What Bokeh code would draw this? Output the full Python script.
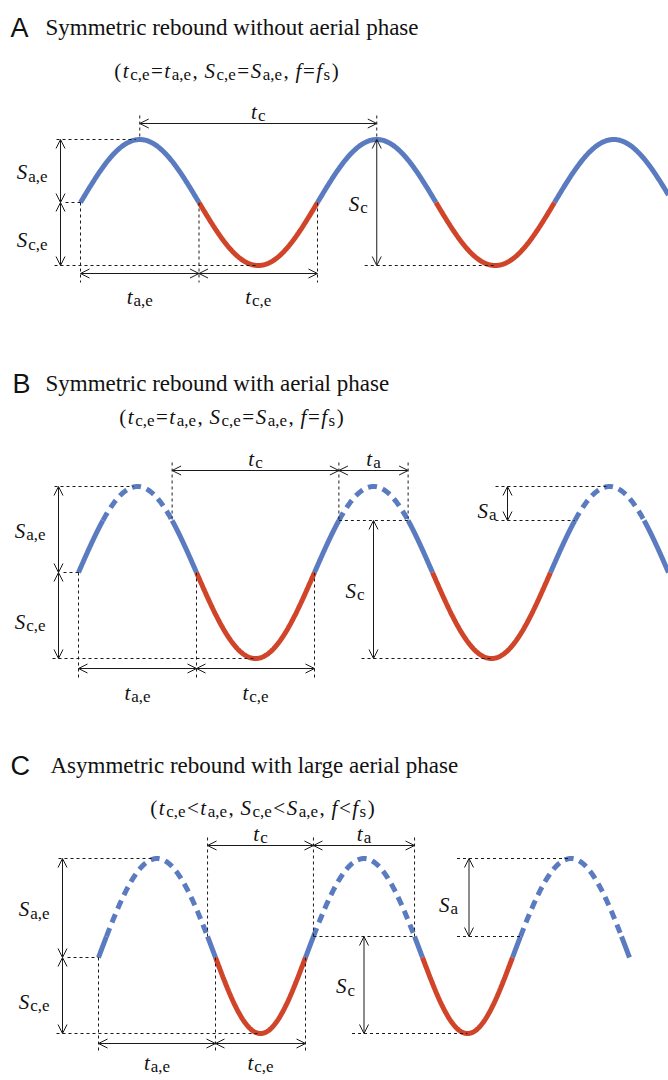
import numpy as np
from bokeh.plotting import figure
from bokeh.models import Range1d, Arrow, OpenHead, ColumnDataSource
from bokeh.core.properties import value, field
from bokeh.embed import file_html
from bokeh.resources import INLINE

# ---------------- data (schematic values, px units) ----------------
panel_letters = ["A", "B", "C"]
panel_titles = ["Symmetric rebound without aerial phase",
                "Symmetric rebound with aerial phase",
                "Asymmetric rebound with large aerial phase"]
panel_relations = ["=", "=", "<"]
start_x = [80, 78, 98]          # start of first extension half-cycle
mid_y = [202, 572, 957]         # equilibrium level
S_ae = [63, 86, 99]             # extension amplitude
S_ce = [63, 86, 76]             # contact amplitude
t_ae = [118.5, 118, 117]        # extension duration
t_ce = [118.5, 118, 90]         # contact duration
S_a = [0, 34, 78]               # aerial rise
end_x = [668, 668, 629]         # end of drawn curve

# ---------------- layout ----------------
W, H = 668, 1080
BLUE = "#5b7bc1"
RED = "#d0452a"
INK = "#1a1a1a"
SERIF = "Liberation Serif"
SANS = "Liberation Sans"
title_base = [27, 383, 765]
letter_x = [10, 12, 10]
title_x = [45, 45, 50]
sub_base = [70, 416, 807]
sub_cx = [226, 231, 262]
vx = [60, 58, 62]
tb_y = [273, 668, 1043]
tt_y = [123, 470, 845]
tb_lab = [23, 24, 19]

MAIN, SUBS = 21, 17
SUB_DROP = 4
WID = {
    "r": {"(": .333, ")": .333, ",": .25, " ": .25, "=": .564, "<": .564,
          "a": .444, "c": .444, "e": .444, "s": .389},
    "i": {"t": .278, "S": .5, "f": .278},
}

p = figure(width=W, height=H, x_range=Range1d(0, W), y_range=Range1d(H, 0),
           x_axis_type=None, y_axis_type=None, toolbar_location=None,
           output_backend="svg", min_border=0, outline_line_color=None,
           background_fill_color="white", border_fill_color="white")
p.grid.visible = False

texts = dict(x=[], y=[], text=[], size=[], style=[], font=[])


def add_text(x, y, txt, size, style="normal", font=SERIF):
    texts["x"].append(x)
    texts["y"].append(y)
    texts["text"].append(txt)
    texts["size"].append(f"{size}px")
    texts["style"].append(style)
    texts["font"].append(font)


def rich(pieces, x, y, align="left", gap=1.5):
    widths = []
    for txt, kind in pieces:
        size = SUBS if kind == "s" else MAIN
        tab = WID["i"] if kind == "i" else WID["r"]
        widths.append(sum(tab.get(ch, .5) for ch in txt) * size)
    total = sum(widths) + gap * (len(pieces) - 1)
    if align == "center":
        x -= total / 2
    elif align == "right":
        x -= total
    cx = x
    for (txt, kind), w in zip(pieces, widths):
        if kind == "s":
            add_text(cx, y + SUB_DROP, txt, SUBS, "normal")
        elif kind == "i":
            add_text(cx, y, txt, MAIN, "italic")
        else:
            add_text(cx, y, txt, MAIN, "normal")
        cx += w + gap


arrows = dict(xs=[], ys=[], xe=[], ye=[])
dashes = dict(x0=[], y0=[], x1=[], y1=[])


def arrow(x0, y0, x1, y1):
    arrows["xs"].append(x0); arrows["ys"].append(y0)
    arrows["xe"].append(x1); arrows["ye"].append(y1)


def dash(x0, y0, x1, y1):
    dashes["x0"].append(x0); dashes["y0"].append(y0)
    dashes["x1"].append(x1); dashes["y1"].append(y1)


for i in range(3):
    x0, m, a, c = start_x[i], mid_y[i], S_ae[i], S_ce[i]
    ta, tc, sa, xe = t_ae[i], t_ce[i], S_a[i], end_x[i]
    period = ta + tc
    thr = a - sa
    phi = np.arcsin(min(thr / a, 1.0)) / np.pi * ta

    # ---- curve ----
    xs_ = x0
    k = 0
    while xs_ < xe - 1e-6:
        if k % 2 == 0:
            w = ta
            if sa > 0:
                parts = [(xs_, xs_ + phi, False), (xs_ + phi, xs_ + w - phi, True),
                         (xs_ + w - phi, xs_ + w, False)]
            else:
                parts = [(xs_, xs_ + w, False)]
            for (q0, q1, dsh) in parts:
                q1 = min(q1, xe)
                if q1 <= q0:
                    continue
                xx = np.linspace(q0, q1, 120)
                yy = m - a * np.sin(np.pi * (xx - xs_) / w)
                p.line(xx, yy, line_color=BLUE, line_width=5, line_cap="butt",
                       line_dash="9 6" if dsh else "solid")
        else:
            w = tc
            q1 = min(xs_ + w, xe)
            xx = np.linspace(xs_, q1, 160)
            yy = m + c * np.sin(np.pi * (xx - xs_) / w)
            p.line(xx, yy, line_color=RED, line_width=5, line_cap="butt")
        xs_ += w
        k += 1

    top, bot, thr_y = m - a, m + c, m - thr
    xm, x1 = x0 + ta, x0 + period
    peak1, peak2, peak3 = x0 + ta / 2, x0 + period + ta / 2, x0 + 2 * period + ta / 2
    trough1, trough2 = xm + tc / 2, xm + period + tc / 2
    xd1 = x0 + ta - phi
    xu2 = x0 + period + phi
    xd2 = x0 + period + ta - phi
    xu3 = x0 + 2 * period + phi

    # ---- titles ----
    add_text(letter_x[i], title_base[i], panel_letters[i], 27, "normal", SANS)
    add_text(title_x[i], title_base[i], panel_titles[i], 23, "normal", SERIF)
    r = panel_relations[i]
    rich([("(", "r"), ("t", "i"), ("c,e", "s"), (r, "r"), ("t", "i"), ("a,e", "s"),
          (", ", "r"), ("S", "i"), ("c,e", "s"), (r, "r"), ("S", "i"), ("a,e", "s"),
          (", ", "r"), ("f", "i"), (r, "r"), ("f", "i"), ("s", "s"), (")", "r")],
         sub_cx[i], sub_base[i], "center")

    # ---- left vertical S arrows ----
    v = vx[i]
    arrow(v, top, v, m)
    arrow(v, m, v, bot)
    dash(v - 4, top, peak1 - 4, top)
    dash(v + 5, m, x0, m)
    dash(v - 6, bot, trough1, bot)
    rich([("S", "i"), ("a,e", "s")], v - 13, (top + m) / 2 + 1, "right", 1)
    rich([("S", "i"), ("c,e", "s")], v - 13, (m + bot) / 2 + 6, "right", 1)

    # ---- bottom t arrows ----
    yb = tb_y[i]
    arrow(x0, yb, xm, yb)
    arrow(xm, yb, x1, yb)
    for xx_ in (x0, xm, x1):
        dash(xx_, m, xx_, yb + 9)
    rich([("t", "i"), ("a,e", "s")], (x0 + xm) / 2, yb + tb_lab[i], "center", 1)
    rich([("t", "i"), ("c,e", "s")], (xm + x1) / 2, yb + tb_lab[i], "center", 1)

    # ---- top t arrows ----
    yt = tt_y[i]
    arrow(xd1, yt, xu2, yt)
    dash(xd1, yt - 8, xd1, thr_y)
    dash(xu2, yt - 8, xu2, thr_y)
    rich([("t", "i"), ("c", "s")], (xd1 + xu2) / 2, yt - 12, "center", 1)
    if sa > 0:
        arrow(xu2, yt, xd2, yt)
        dash(xd2, yt - 8, xd2, thr_y)
        dash(xu2, thr_y, xd2, thr_y)
        rich([("t", "i"), ("a", "s")], (xu2 + xd2) / 2, yt - 12, "center", 1)

    # ---- Sc arrow ----
    arrow(peak2, thr_y, peak2, bot)
    dash(peak2 - 12, bot, trough2, bot)
    rich([("S", "i"), ("c", "s")], peak2 - 9, (thr_y + bot) / 2 + 1, "right", 1)

    # ---- Sa arrow ----
    if sa > 0:
        sx = peak3 - 102
        arrow(sx, top, sx, thr_y)
        dash(sx - 12, top, peak3, top)
        dash(sx - 12, thr_y, xu3, thr_y)
        rich([("S", "i"), ("a", "s")], sx - 11, (top + thr_y) / 2 + 7, "right", 1)

p.segment(x0="x0", y0="y0", x1="x1", y1="y1", source=ColumnDataSource(dashes),
          line_color=INK, line_width=1, line_dash="3 3")

head = dict(size=9, line_color=INK, line_width=1)
p.add_layout(Arrow(start=OpenHead(**head), end=OpenHead(**head),
                   source=ColumnDataSource(arrows), x_start="xs", y_start="ys",
                   x_end="xe", y_end="ye", line_color=INK, line_width=1))

p.text(x="x", y="y", text="text", source=ColumnDataSource(texts),
       text_font=field("font"), text_font_size=field("size"),
       text_font_style=field("style"), text_align="left",
       text_baseline="alphabetic", text_color="#111111")

open("out.html", "w").write(file_html(p, INLINE))
